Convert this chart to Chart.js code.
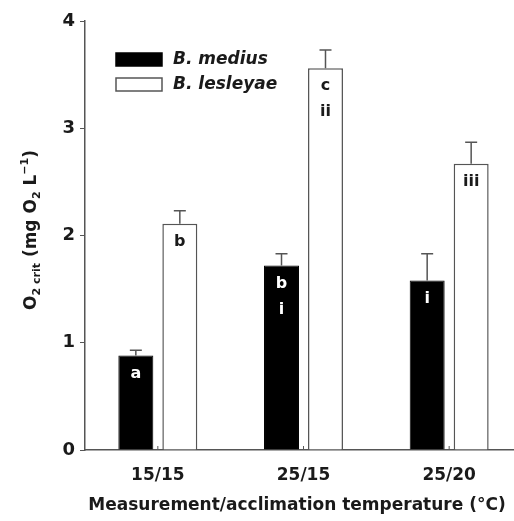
<!DOCTYPE html>
<html>
<head>
<meta charset="utf-8">
<script src="https://cdn.jsdelivr.net/npm/chart.js@4"></script>
<style>
  html, body { margin: 0; padding: 0; background: #fff; overflow: hidden; }
  #wrap { width: 522px; height: 521px; }
</style>
</head>
<body>
<div id="wrap"><canvas id="myChart" width="522" height="521"></canvas></div>
<script>
const categories = ['15/15', '25/15', '25/20']
const medius = [0.88, 1.72, 1.58]
const mediusErr = [0.05, 0.11, 0.25]
const lesleyae = [2.11, 3.56, 2.67]
const lesleyaeErr = [0.12, 0.17, 0.20]
const mediusLetters = [['a'], ['b', 'i'], ['i']]
const lesleyaeLetters = [['b'], ['c', 'ii'], ['iii']]
const yTicks = [0, 1, 2, 3, 4]
const xTitle = 'Measurement/acclimation temperature (\u00b0C)'

const FONT = '"DejaVu Sans", sans-serif'
const AXIS = '#555'
const TXT = '#1a1a1a'

// error bars (upward only) + letters inside bars
const barExtras = {
  id: 'barExtras',
  afterDatasetsDraw(chart) {
    const ctx = chart.ctx
    const y = chart.scales.y
    const errs = [mediusErr, lesleyaeErr]
    const letters = [mediusLetters, lesleyaeLetters]
    const txtCol = ['#fff', TXT]
    ctx.save()
    chart.data.datasets.forEach((ds, di) => {
      const meta = chart.getDatasetMeta(di)
      meta.data.forEach((bar, i) => {
        const top = y.getPixelForValue(ds.data[i] + errs[di][i])
        ctx.strokeStyle = AXIS
        ctx.lineWidth = 1.5
        ctx.beginPath()
        ctx.moveTo(bar.x, bar.y)
        ctx.lineTo(bar.x, top)
        ctx.moveTo(bar.x - 6, top)
        ctx.lineTo(bar.x + 6, top)
        ctx.stroke()
        ctx.fillStyle = txtCol[di]
        ctx.font = 'bold 16px ' + FONT
        ctx.textAlign = 'center'
        ctx.textBaseline = 'middle'
        letters[di][i].forEach((t, k) => {
          ctx.fillText(t, bar.x, bar.y + 18 + k * 26)
        })
      })
    })
    // small tick marks at category centres
    const xs = chart.scales.x
    ctx.strokeStyle = AXIS
    ctx.lineWidth = 1
    categories.forEach((c, i) => {
      const px = xs.getPixelForValue(i)
      ctx.beginPath()
      ctx.moveTo(px, y.bottom)
      ctx.lineTo(px, y.bottom - 4)
      ctx.stroke()
    })
    ctx.restore()
  }
}

// legend + axis titles drawn by hand
const extras = {
  id: 'extras',
  afterDraw(chart) {
    const ctx = chart.ctx
    ctx.save()
    chart.data.datasets.forEach((ds, di) => {
      const yy = 53 + di * 25
      ctx.fillStyle = ds.backgroundColor
      ctx.fillRect(116, yy, 46, 13)
      ctx.strokeStyle = di ? AXIS : '#000'
      ctx.lineWidth = 1.5
      ctx.strokeRect(116, yy, 46, 13)
      ctx.fillStyle = TXT
      ctx.font = 'italic bold 17px ' + FONT
      ctx.textAlign = 'left'
      ctx.textBaseline = 'middle'
      ctx.fillText(ds.label, 173, yy + 7)
    })

    // x title
    ctx.font = 'bold 17px ' + FONT
    ctx.textAlign = 'center'
    ctx.fillText(xTitle, 297, 506)

    // rotated y title: O2 crit (mg O2 L-1)
    const parts = [
      ['O', 17, 0], ['2 crit', 11, 5], [' (mg O', 17, 0], ['2', 11, 5],
      [' L', 17, 0], ['\u22121', 11, -7], [')', 17, 0]
    ]
    let w = 0
    parts.forEach(p => { ctx.font = 'bold ' + p[1] + 'px ' + FONT; w += ctx.measureText(p[0]).width })
    ctx.translate(32, 230)
    ctx.rotate(-Math.PI / 2)
    ctx.textAlign = 'left'
    let x = -w / 2
    parts.forEach(p => {
      ctx.font = 'bold ' + p[1] + 'px ' + FONT
      ctx.fillText(p[0], x, p[2])
      x += ctx.measureText(p[0]).width
    })
    ctx.restore()
  }
}

const data = {
  labels: categories,
  datasets: [{
    label: 'B. medius',
    data: medius,
    backgroundColor: '#000',
    borderColor: '#000',
    borderWidth: 1
  }, {
    label: 'B. lesleyae',
    data: lesleyae,
    backgroundColor: '#fff',
    borderColor: AXIS,
    borderWidth: 1.5
  }]
}

const config = {
  type: 'bar',
  data: data,
  options: {
    responsive: false,
    animation: false,
    layout: { padding: { top: 21, left: 0, right: 0, bottom: 0 } },
    categoryPercentage: 0.604,
    barPercentage: 0.795,
    plugins: { legend: { display: false }, tooltip: { enabled: false } },
    scales: {
      x: {
        afterFit(s) { s.height = 71 },
        grid: { drawOnChartArea: false, drawTicks: false },
        border: { color: AXIS, width: 1.5 },
        ticks: { color: TXT, padding: 15, font: { family: FONT, size: 17, weight: 'bold' } }
      },
      y: {
        min: 0,
        max: 4,
        afterFit(s) { s.width = 85 },
        afterBuildTicks(s) { s.ticks = yTicks.map(v => ({ value: v })) },
        grid: { drawOnChartArea: false, drawTicks: true, tickLength: 5, color: AXIS },
        border: { color: AXIS, width: 1.5 },
        ticks: { color: TXT, padding: 5, font: { family: FONT, size: 18, weight: 'bold' } }
      }
    }
  },
  plugins: [barExtras, extras]
}

const myChart = new Chart(document.getElementById('myChart'), config)
</script>
</body>
</html>
